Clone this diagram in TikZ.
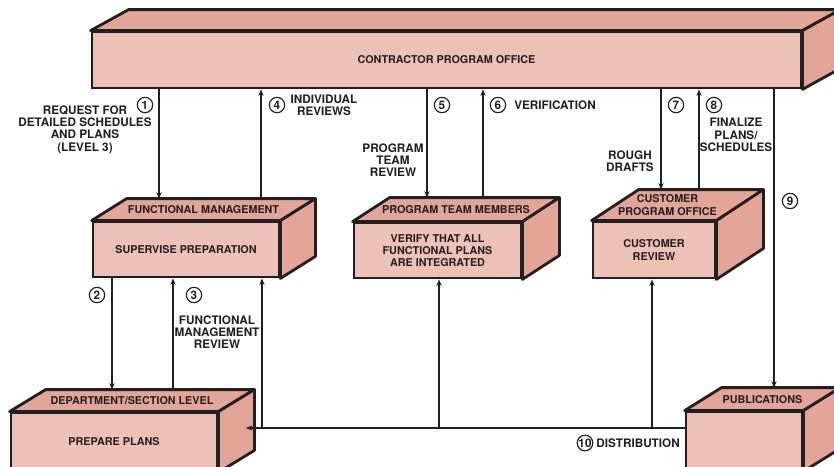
\documentclass[tikz,border=0pt]{standalone}
\usepackage{fontspec}
\setmainfont{TeX Gyre Heros}
\usepackage{xcolor}
\usetikzlibrary{positioning,arrows.meta,calc}

\definecolor{frontpink}{HTML}{EDC1B6}
\definecolor{toppink}{HTML}{E2A597}
\definecolor{edgegray}{HTML}{231F20}

\newcommand{\lbl}{\fontsize{9.2}{10.5}\selectfont\bfseries}
\newcommand{\sidelbl}{\fontsize{10}{10.5}\selectfont\bfseries}

% top and right faces of a box, plus its back edge
\newcommand{\boxfaces}[3]{%
  \filldraw[face] (#1.north west) -- ++(#2,#3) -- ($(#1.north east)+(#2,#3)$) -- (#1.north east) -- cycle;
  \filldraw[face] (#1.north east) -- ++(#2,#3) -- ($(#1.south east)+(#2,#3)$) -- (#1.south east) -- cycle;
  \coordinate (#1-back) at ($(#1.north)+(#2,#3)$);
  \coordinate (#1-top) at ($(#1.north)+0.5*(#2,#3)$);
}

\begin{document}
\begin{tikzpicture}[
  x=0.03cm, y=-0.03cm,
  front/.style={draw=edgegray, line width=2.4pt, fill=frontpink, inner sep=0pt, align=center, font=\lbl, text=edgegray},
  face/.style={fill=toppink, draw=edgegray, line width=2.4pt, line join=round},
  ttl/.style={font=\lbl, align=center, text=edgegray, inner sep=0pt},
  arr/.style={-{Stealth[length=5.5pt,width=4.5pt]}, line width=1.8pt, draw=edgegray},
  num/.style={circle, draw=edgegray, line width=1pt, minimum size=0.46cm, inner sep=0pt, font=\sidelbl, text=edgegray},
  lab/.style={font=\sidelbl, align=center, text=edgegray, inner sep=1pt}
]
  \useasboundingbox (0,0) rectangle (834,466);

  % Boxes
  \node[front, minimum width=21.27cm, minimum height=1.68cm] (CPO) at (446.5,60) {CONTRACTOR PROGRAM OFFICE};
  \boxfaces{CPO}{38}{-21}
  \node[front, minimum width=5.58cm, minimum height=1.65cm] (FM) at (186,249.5) {SUPERVISE PREPARATION};
  \boxfaces{FM}{35}{-22}
  \node[front, minimum width=5.01cm, minimum height=1.65cm] (PT) at (437.5,250.5) {VERIFY THAT ALL\\FUNCTIONAL PLANS\\ARE INTEGRATED};
  \boxfaces{PT}{37}{-24}
  \node[front, minimum width=3.66cm, minimum height=1.68cm] (CU) at (654,250) {CUSTOMER\\REVIEW};
  \boxfaces{CU}{47}{-31}
  \node[front, minimum width=6.18cm, minimum height=1.74cm] (DP) at (114,442) {PREPARE PLANS};
  \boxfaces{DP}{36}{-22}
  \node[front, minimum width=3.48cm, minimum height=1.74cm] (PUB) at (744,441) {};
  \boxfaces{PUB}{37}{-23}

  \node[ttl] (FMt) at (FM-top) {FUNCTIONAL MANAGEMENT};
  \node[ttl] (PTt) at (PT-top) {PROGRAM TEAM MEMBERS};
  \node[ttl, xshift=-0.3cm] (CUt) at (CU-top) {CUSTOMER\\PROGRAM OFFICE};
  \node[ttl] (DPt) at (DP-top) {DEPARTMENT/SECTION LEVEL};
  \node[ttl] (PUBt) at (PUB-top) {PUBLICATIONS};

  % Connector positions
  \foreach \n/\x in {1/159, 4/261, 5/427, 6/483, 7/661, 8/699, 9/774, 2/112, 3/173, b1/262, b2/439, b3/652}
    \coordinate (c\n) at (\x,0);
  \coordinate (dl) at (0,428);
  \coordinate (dend) at (246,428);

  \draw[arr] (CPO.south -| c1) -- (FM-back -| c1);
  \draw[arr] (FM-back -| c4) -- (CPO.south -| c4);
  \draw[arr] (CPO.south -| c5) -- (PT-back -| c5);
  \draw[arr] (PT-back -| c6) -- (CPO.south -| c6);
  \draw[arr] (CPO.south -| c7) -- (CU-back -| c7);
  \draw[arr] (CU-back -| c8) -- (CPO.south -| c8);
  \draw[arr] (CPO.south -| c9) -- (PUB-back -| c9);
  \draw[arr] (FM.south -| c2) -- (DP-back -| c2);
  \draw[arr] (DP-back -| c3) -- (FM.south -| c3);

  % Distribution
  \draw[arr] (PUB.west |- dl) -- (dend);
  \draw[arr] (cb1 |- dl) -- (FM.south -| cb1);
  \draw[arr] (cb2 |- dl) -- (PT.south -| cb2);
  \draw[arr] (cb3 |- dl) -- (CU.south -| cb3);

  % Step numbers
  \node[num] (n1) at (145,105) {1};
  \node[num] (n2) at (97,295) {2};
  \node[num] (n3) at (194,295) {3};
  \node[num] (n4) at (277,105) {4};
  \node[num] (n5) at (442,105) {5};
  \node[num] (n6) at (498,105) {6};
  \node[num] (n7) at (676,105) {7};
  \node[num] (n8) at (714,105) {8};
  \node[num] (n9) at (790,201) {9};
  \node[num] (n10) at (585,443) {10};

  % Labels
  \node[lab] (L1) at (85,129.5) {REQUEST FOR\\DETAILED SCHEDULES\\AND PLANS\\(LEVEL 3)};
  \node[lab] (L4) at (324,105) {INDIVIDUAL\\REVIEWS};
  \node[lab] (L5) at (393,160) {PROGRAM\\TEAM\\REVIEW};
  \node[lab, right=0.2cm of n6] (L6) {VERIFICATION};
  \node[lab] (L7) at (630,161.5) {ROUGH\\DRAFTS};
  \node[lab] (L8) at (736,135) {FINALIZE\\PLANS/\\SCHEDULES};
  \node[lab] (L3) at (217,332) {FUNCTIONAL\\MANAGEMENT\\REVIEW};
  \node[lab, right=0.05cm of n10] (L10) {DISTRIBUTION};
\end{tikzpicture}
\end{document}
